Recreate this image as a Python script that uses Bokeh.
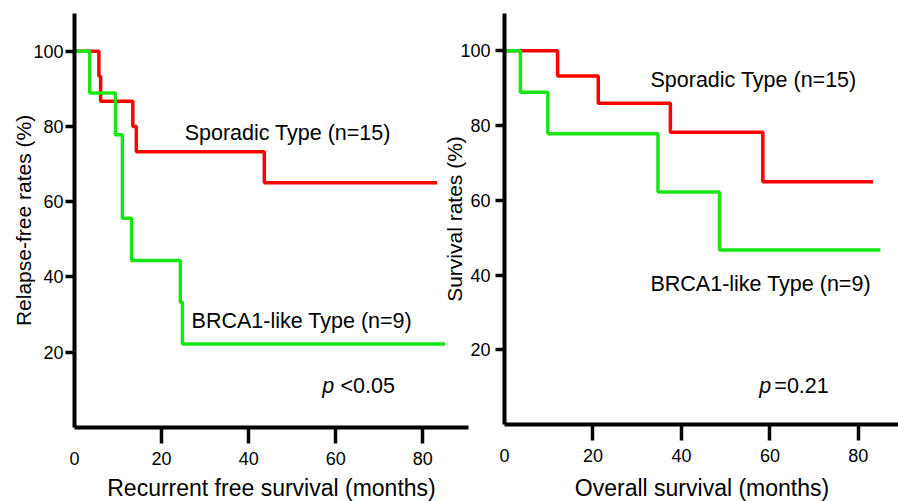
from bokeh.plotting import figure
from bokeh.layouts import row
from bokeh.models import Range1d, FixedTicker, Label
from bokeh.embed import file_html
from bokeh.resources import INLINE

# ---- data ----
rfs_sporadic_months = [0, 5.6, 6.0, 13.4, 14.2, 43.6, 83.3]
rfs_sporadic_rate = [100, 93.3, 86.7, 80.0, 73.3, 65.0, 65.0]
rfs_brca1_months = [0, 3.5, 9.4, 11.0, 13.1, 24.3, 24.8, 85.1]
rfs_brca1_rate = [100, 88.9, 77.8, 55.6, 44.4, 33.3, 22.2, 22.2]

os_sporadic_months = [0, 12.0, 21.2, 37.5, 58.4, 83.3]
os_sporadic_rate = [100, 93.3, 86.0, 78.2, 65.0, 65.0]
os_brca1_months = [0, 3.6, 9.8, 34.7, 48.6, 85.0]
os_brca1_rate = [100, 88.9, 77.8, 62.2, 46.7, 46.7]

x_ticks = [0, 20, 40, 60, 80]
y_ticks = [20, 40, 60, 80, 100]

RED = "#ff0000"
GREEN = "#16e616"
FONT = "Liberation Sans"
TICK = "#050505"


def make_panel(frame_w, frame_h, x_end, bl, bt, bb, br, xlabel, ylabel,
               ylab_standoff, ytick_standoff, xlab_standoff, transparent):
    p = figure(frame_width=frame_w, frame_height=frame_h,
               x_range=Range1d(0, x_end), y_range=Range1d(0, 110),
               output_backend="svg", toolbar_location=None,
               min_border_left=bl, min_border_top=bt, min_border_bottom=bb,
               min_border_right=br)
    p.grid.visible = False
    p.outline_line_color = None
    if transparent:
        p.border_fill_color = None
        p.background_fill_color = None

    xa = p.xaxis[0]
    xa.ticker = FixedTicker(ticks=x_ticks, minor_ticks=x_ticks[1:])
    xa.major_tick_line_color = None
    xa.major_tick_out = 16
    xa.major_tick_in = 0
    xa.minor_tick_line_color = TICK
    xa.minor_tick_line_width = 3.5
    xa.minor_tick_out = 16
    xa.minor_tick_in = 1
    xa.axis_line_width = 4
    xa.axis_line_color = "black"
    xa.major_label_text_font = FONT
    xa.major_label_text_font_size = "18px"
    xa.major_label_text_color = "black"
    xa.major_label_standoff = 8
    xa.axis_label = xlabel
    xa.axis_label_text_font = FONT
    xa.axis_label_text_font_size = "23px"
    xa.axis_label_text_font_style = "normal"
    xa.axis_label_text_color = "black"
    xa.axis_label_standoff = xlab_standoff

    ya = p.yaxis[0]
    ya.ticker = FixedTicker(ticks=y_ticks)
    ya.major_tick_out = 9
    ya.major_tick_in = 1
    ya.major_tick_line_width = 3.5
    ya.major_tick_line_color = TICK
    ya.minor_tick_line_color = None
    ya.axis_line_width = 4
    ya.axis_line_color = "black"
    ya.major_label_text_font = FONT
    ya.major_label_text_font_size = "18px"
    ya.major_label_text_color = "black"
    ya.major_label_standoff = ytick_standoff
    ya.axis_label = ylabel
    ya.axis_label_text_font = FONT
    ya.axis_label_text_font_size = "21px"
    ya.axis_label_text_font_style = "normal"
    ya.axis_label_text_color = "black"
    ya.axis_label_standoff = ylab_standoff
    return p


def add_text(p, x, y, text, style="normal"):
    p.add_layout(Label(x=x, y=y, text=text, text_font=FONT,
                       text_font_size="21.5px", text_font_style=style,
                       text_baseline="middle", text_align="left",
                       text_color="black"))


# ---- left panel: recurrence free survival ----
p1 = make_panel(394, 414, 90.5, 74, 12, 75, 6,
                "Recurrent free survival (months)", "Relapse-free rates (%)",
                -5, 2, 7, False)
p1.step(rfs_sporadic_months, rfs_sporadic_rate, mode="after",
        line_color=RED, line_width=3.5)
p1.step(rfs_brca1_months, rfs_brca1_rate, mode="after",
        line_color=GREEN, line_width=3.5)
add_text(p1, 25.3, 78.3, "Sporadic Type (n=15)")
add_text(p1, 26.9, 28.2, "BRCA1-like Type (n=9)")
add_text(p1, 56.9, 10.9, "p", "italic")
add_text(p1, 61.1, 10.9, "<0.05")

# ---- right panel: overall survival ----
p2 = make_panel(395, 411, 89.3, 63, 13, 77, 0,
                "Overall survival (months)", "Survival rates (%)",
                -9, 5, 10, True)
p2.step(os_sporadic_months, os_sporadic_rate, mode="after",
        line_color=RED, line_width=3.5)
p2.step(os_brca1_months, os_brca1_rate, mode="after",
        line_color=GREEN, line_width=3.5)
add_text(p2, 33.0, 92.1, "Sporadic Type (n=15)")
add_text(p2, 33.0, 37.7, "BRCA1-like Type (n=9)")
add_text(p2, 57.6, 10.4, "p", "italic")
add_text(p2, 61.0, 10.4, "=0.21")
p2.margin = (0, 0, 0, -34)

layout = row(p1, p2)
open("out.html", "w").write(file_html(layout, INLINE))
